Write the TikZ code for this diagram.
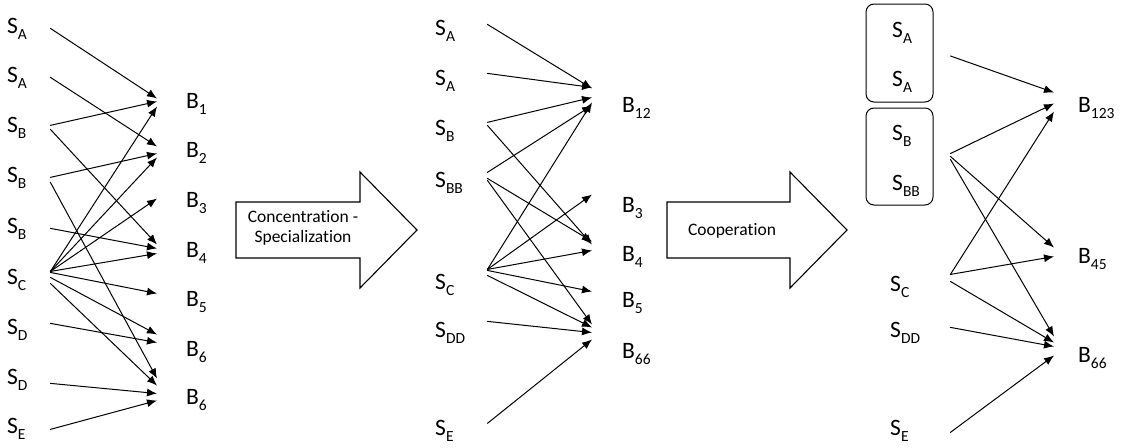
\documentclass[tikz,border=0pt]{standalone}
\usepackage{fontspec}
\setmainfont{Carlito}[Ligatures=NoCommon]
\usepackage{tikz}
\usetikzlibrary{arrows.meta}

\newcommand\lowsub[1]{\raisebox{-6pt}{\fontsize{15.5}{15.5}\selectfont #1}}

\begin{document}
\begin{tikzpicture}[
      x=1pt, y=-1pt, line cap=round, line join=miter,
      lbl/.style={inner sep=0pt, font=\fontsize{23.5}{26}\selectfont},
      src/.style={lbl, anchor=base west, text width=28pt, align=left},
      dst/.style={lbl, anchor=base west},
      link/.style={-{Latex[length=10pt,width=8pt]}, line width=1pt},
      grp/.style={draw, rounded corners=8pt, line width=1pt,
        minimum width=67pt, inner sep=0pt},
      bigarrow/.style={draw, line width=1.1pt},
      note/.style={inner sep=0pt, align=center,
        font=\fontsize{17.5}{20.5}\selectfont}
    ]

    \useasboundingbox (0,0) rectangle (1121,447);

    % ------------------ Layout ------------------
    \def\gapSL{15}
    \def\gapSM{24}
    \def\gapSR{32}
    \def\gapBox{17}
    \def\gapBL{29}
    \def\gapBM{30}
    \def\gapBR{24}

    \def\bodyTop{202}
    \def\bodyBot{258}
    \def\headTop{172}
    \def\headBot{288}
    \def\midY{230}

    % ------------------ Left column ------------------
    \node[src] (srcL1) at (7,33)  {S\lowsub{A}};
    \node[src] (srcL2) at (7,82)  {S\lowsub{A}};
    \node[src] (srcL3) at (7,132) {S\lowsub{B}};
    \node[src] (srcL4) at (7,182) {S\lowsub{B}};
    \node[src] (srcL5) at (7,233) {S\lowsub{B}};
    \node[src] (srcL6) at (7,284) {S\lowsub{C}};
    \node[src] (srcL7) at (7,334) {S\lowsub{D}};
    \node[src] (srcL8) at (7,384) {S\lowsub{D}};
    \node[src] (srcL9) at (7,433) {S\lowsub{E}};

    \node[dst] (dstL1) at (186,108) {B\lowsub{1}};
    \node[dst] (dstL2) at (186,157) {B\lowsub{2}};
    \node[dst] (dstL3) at (186,207) {B\lowsub{3}};
    \node[dst] (dstL4) at (186,257) {B\lowsub{4}};
    \node[dst] (dstL5) at (186,306) {B\lowsub{5}};
    \node[dst] (dstL6) at (186,356) {B\lowsub{6}};
    \node[dst] (dstL7) at (186,404) {B\lowsub{6}};

    \foreach \s/\sy/\d/\dy in {srcL1/0/dstL1/5, srcL2/0/dstL2/6,
      srcL3/2/dstL1/2, srcL3/-2/dstL4/8, srcL4/0/dstL2/-1,
      srcL4/-5/dstL7/21, srcL5/0/dstL4/4, srcL6/8/dstL1/-3,
      srcL6/8/dstL2/-5, srcL6/8/dstL3/4, srcL6/8/dstL4/-1,
      srcL6/7/dstL5/8, srcL6/2/dstL6/17, srcL6/-4/dstL7/14,
      srcL7/6/dstL6/9, srcL8/-4/dstL7/6, srcL9/-1/dstL7/-1}
      \draw[link] ([xshift=\gapSL, yshift=\sy]\s.east) --
      ([xshift=-\gapBL, yshift=\dy]\d.west);

    % ------------------ Concentration - Specialization ------------------
    \draw[bigarrow] (236,\bodyTop) -- (360,\bodyTop) -- (360,\headTop) --
    (417,\midY) -- (360,\headBot) -- (360,\bodyBot) -- (236,\bodyBot) -- cycle;
    \node[note] (conc) at (303,228) {Concentration -\\Specialization};

    % ------------------ Middle column ------------------
    \node[src] (srcM1) at (435,35)  {S\lowsub{A}};
    \node[src] (srcM2) at (435,85)  {S\lowsub{A}};
    \node[src] (srcM3) at (435,135) {S\lowsub{B}};
    \node[src] (srcM4) at (435,187) {S\lowsub{BB}};
    \node[src] (srcM5) at (435,289) {S\lowsub{C}};
    \node[src] (srcM6) at (435,337) {S\lowsub{DD}};
    \node[src] (srcM7) at (435,435) {S\lowsub{E}};

    \node[dst] (dstM1) at (622,112) {B\lowsub{12}};
    \node[dst] (dstM2) at (622,212) {B\lowsub{3}};
    \node[dst] (dstM3) at (622,261) {B\lowsub{4}};
    \node[dst] (dstM4) at (622,307) {B\lowsub{5}};
    \node[dst] (dstM5) at (622,358) {B\lowsub{66}};

    \foreach \s/\sy/\d/\dy in {srcM1/6/dstM1/19, srcM2/7/dstM1/20,
      srcM3/8/dstM1/10, srcM3/5/dstM3/12, srcM4/10/dstM1/2,
      srcM4/4/dstM3/15, srcM4/2/dstM5/29, srcM5/15/dstM1/5,
      srcM5/15/dstM2/13, srcM5/15/dstM3/6, srcM5/14/dstM4/11,
      srcM5/9/dstM5/26, srcM6/11/dstM5/21, srcM7/7/dstM5/14}
      \draw[link] ([xshift=\gapSM, yshift=\sy]\s.east) --
      ([xshift=-\gapBM, yshift=\dy]\d.west);

    % ------------------ Cooperation ------------------
    \draw[bigarrow] (667,\bodyTop) -- (790,\bodyTop) -- (790,\headTop) --
    (847,\midY) -- (790,\headBot) -- (790,\bodyBot) -- (667,\bodyBot) -- cycle;
    \node[note] (coop) at (732,231) {Cooperation};

    % ------------------ Right column ------------------
    \node[grp, minimum height=98pt] (grpA) at (899.5,53) {};
    \node[grp, minimum height=97pt] (grpB) at (899.5,156.5) {};

    \node[src] (inA1) at (892,37)  {S\lowsub{A}};
    \node[src] (inA2) at (892,86)  {S\lowsub{A}};
    \node[src] (inB1) at (892,140) {S\lowsub{B}};
    \node[src] (inB2) at (892,190) {S\lowsub{BB}};

    \node[src] (srcR1) at (890,291) {S\lowsub{C}};
    \node[src] (srcR2) at (890,337) {S\lowsub{DD}};
    \node[src] (srcR3) at (890,435) {S\lowsub{E}};

    \node[dst] (dstR1) at (1078,112) {B\lowsub{123}};
    \node[dst] (dstR2) at (1078,263) {B\lowsub{45}};
    \node[dst] (dstR3) at (1078,362) {B\lowsub{66}};

    \foreach \s/\sy/\d/\dy in {grpA/-3/dstR1/15, grpB/3/dstR1/4,
      grpB/0/dstR2/11, grpB/-3/dstR3/21}
      \draw[link] ([xshift=\gapBox, yshift=\sy]\s.east) --
      ([xshift=-\gapBR, yshift=\dy]\d.west);

    \foreach \s/\sy/\d/\dy in {srcR1/12/dstR1/-4, srcR1/12/dstR2/2,
      srcR1/5/dstR3/15, srcR2/5/dstR3/11, srcR3/-2/dstR3/2}
      \draw[link] ([xshift=\gapSR, yshift=\sy]\s.east) --
      ([xshift=-\gapBR, yshift=\dy]\d.west);

  \end{tikzpicture}
\end{document}
